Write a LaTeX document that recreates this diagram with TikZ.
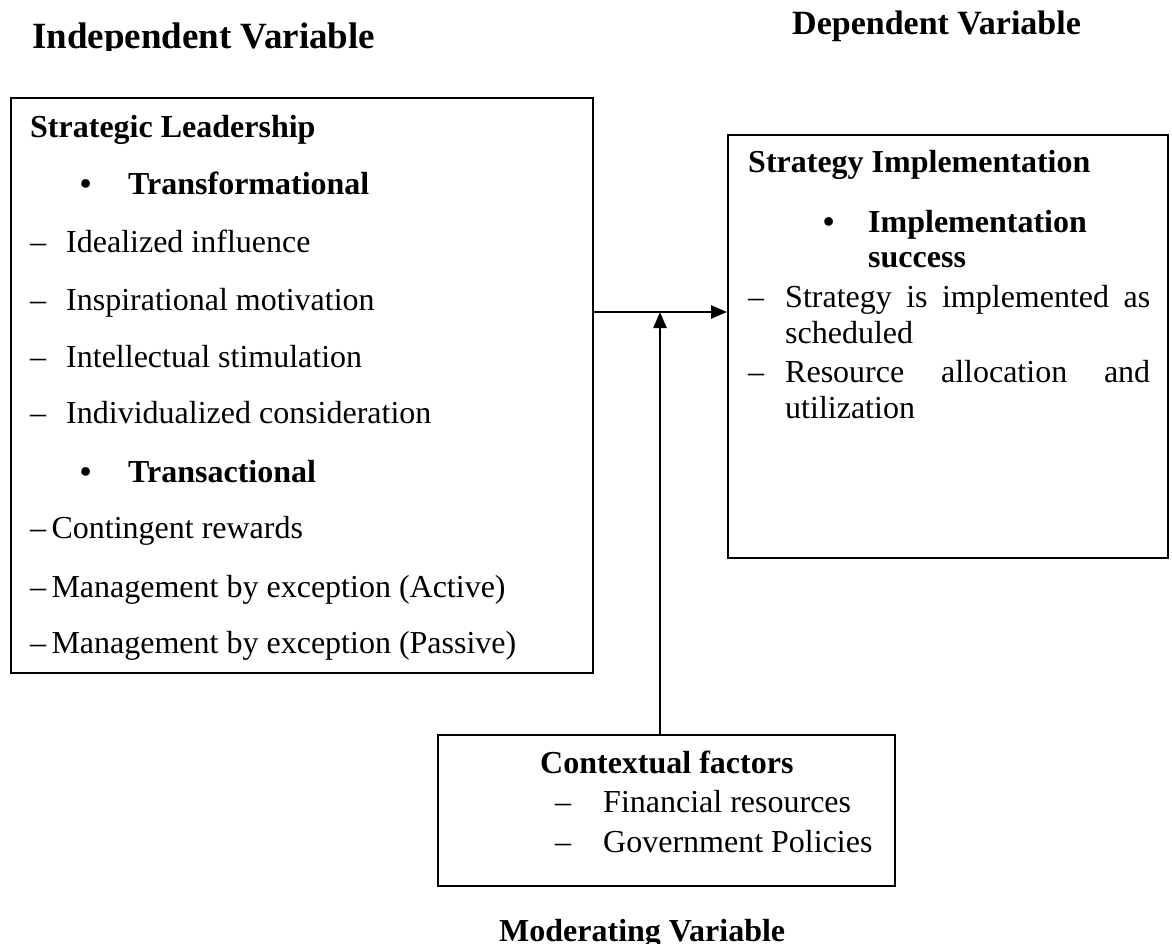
\documentclass[tikz,border=0pt]{standalone}
\usepackage{fontspec}
\setmainfont{Liberation Serif}
\usetikzlibrary{arrows.meta,positioning}

\begin{document}
\begin{tikzpicture}[x=1pt, y=-1pt,
    txt/.style={anchor=base west, inner sep=0pt,
                font=\fontsize{32}{38}\selectfont},
    btxt/.style={txt, font=\fontsize{32}{38}\selectfont\bfseries},
    frame/.style={draw, line width=2pt, anchor=north west, inner sep=0pt},
    arr/.style={-{Triangle[length=16pt,width=13pt]}, line width=2.5pt},
  ]
  \useasboundingbox (0,0) rectangle (1172,944);

  % Headings
  \begin{scope}
    \clip (0,0) rectangle (1172,51);
    \node[btxt, font=\fontsize{37}{40}\selectfont\bfseries] (indep) at (32,49)
          {Independent Variable};
  \end{scope}
  \node[btxt, font=\fontsize{34}{40}\selectfont\bfseries] (dep) at (792,35)
        {Dependent Variable};
  \node[btxt] (mod) at (499,941) {Moderating Variable};

  % Boxes
  \node[frame, minimum width=582pt, minimum height=575pt] (lead) at (10,97) {};
  \node[frame, minimum width=440pt, minimum height=423pt] (impl) at (727,134) {};
  \node[frame, minimum width=457pt, minimum height=151pt] (ctx)  at (437,734) {};

  % Strategic leadership
  \node[btxt] (sl)   at (30,138)  {Strategic Leadership};
  \node[btxt] (tfb)  at (80,195)  {\textbullet};
  \node[btxt] (tf)   at (128,195) {Transformational};
  \node[txt]  (tf1d) at (30,252)  {\textendash};
  \node[txt]  (tf1)  at (66,252)  {Idealized influence};
  \node[txt]  (tf2d) at (30,310)  {\textendash};
  \node[txt]  (tf2)  at (66,310)  {Inspirational motivation};
  \node[txt]  (tf3d) at (30,367)  {\textendash};
  \node[txt]  (tf3)  at (66,367)  {Intellectual stimulation};
  \node[txt]  (tf4d) at (30,423)  {\textendash};
  \node[txt]  (tf4)  at (66,423)  {Individualized consideration};
  \node[btxt] (tab)  at (80,482)  {\textbullet};
  \node[btxt] (ta)   at (128,482) {Transactional};
  \node[txt]  (ta1)  at (30,538)  {\textendash\,Contingent rewards};
  \node[txt]  (ta2)  at (30,597)  {\textendash\,Management by exception (Active)};
  \node[txt]  (ta3)  at (30,653)  {\textendash\,Management by exception (Passive)};

  % Strategy implementation
  \node[btxt] (si)   at (748,173) {Strategy Implementation};
  \node[btxt] (isb)  at (823,232) {\textbullet};
  \node[btxt] (is)   at (868,232) {Implementation};
  \node[btxt] (is2)  at (868,267) {success};
  \node[txt]  (si1d) at (748,307) {\textendash};
  \node[txt]  (si1)  at (785,307)
        {\makebox[365pt][s]{Strategy is implemented as}};
  \node[txt]  (si1b) at (785,343) {scheduled};
  \node[txt]  (si2d) at (748,382) {\textendash};
  \node[txt]  (si2)  at (785,382)
        {\makebox[365pt][s]{Resource allocation and}};
  \node[txt]  (si2b) at (785,418) {utilization};

  % Contextual factors
  \node[btxt] (cf)   at (540,773) {Contextual factors};
  \node[txt]  (cf1d) at (555,812) {\textendash};
  \node[txt]  (cf1)  at (603,812) {Financial resources};
  \node[txt]  (cf2d) at (555,852) {\textendash};
  \node[txt]  (cf2)  at (603,852) {Government Policies};

  % Arrows
  \coordinate (join) at (660,312);
  \draw[arr] (lead.east |- join) -- (impl.west |- join);
  \draw[arr] (ctx.north -| join) -- (join);
\end{tikzpicture}
\end{document}
